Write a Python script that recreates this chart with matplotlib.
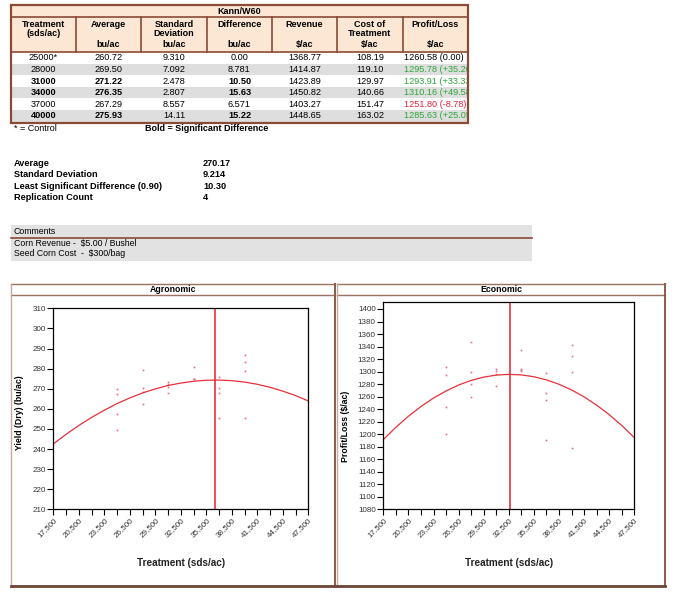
import matplotlib.pyplot as plt
from matplotlib.patches import Rectangle
from matplotlib.transforms import Bbox, TransformedBbox

plt.rcParams['font.family'] = ['Liberation Sans', 'DejaVu Sans']

# table data
title = "Kann/W60"
header_top = ["Treatment\n(sds/ac)", "Average", "Standard\nDeviation", "Difference",
              "Revenue", "Cost of\nTreatment", "Profit/Loss"]
header_units = ["", "bu/ac", "bu/ac", "bu/ac", "$/ac", "$/ac", "$/ac"]
treatments = ["25000*", "28000", "31000", "34000", "37000", "40000"]
averages = ["260.72", "269.50", "271.22", "276.35", "267.29", "275.93"]
std_devs = ["9.310", "7.092", "2.478", "2.807", "8.557", "14.11"]
differences = ["0.00", "8.781", "10.50", "15.63", "6.571", "15.22"]
revenues = ["1368.77", "1414.87", "1423.89", "1450.82", "1403.27", "1448.65"]
costs = ["108.19", "119.10", "129.97", "140.66", "151.47", "163.02"]
profits = [1260.58, 1295.78, 1293.91, 1310.16, 1251.80, 1285.63]
profit_diffs = [0.00, 35.20, 33.33, 49.58, -8.78, 25.05]
significant = [False, False, True, True, False, True]

stat_labels = ["Average", "Standard Deviation", "Least Significant Difference (0.90)",
               "Replication Count"]
stat_values = ["270.17", "9.214", "10.30", "4"]
comment_lines = ["Corn Revenue -  $5.00 / Bushel", "Seed Corn Cost  -  $300/bag"]

# plot data
rates = [25000, 28000, 31000, 34000, 37000, 40000]
yield_reps = [[269.9, 267.2, 257.3, 249.5],
              [279.3, 270.2, 268.5, 262.4],
              [273.2, 272.2, 271.0, 267.7],
              [281.0, 275.0, 274.8, 274.6],
              [276.0, 270.2, 268.0, 255.6],
              [286.8, 283.1, 278.8, 255.6]]
profit_reps = [[1306.8, 1294.6, 1243.5, 1200.3],
               [1347.3, 1299.4, 1280.7, 1260.0],
               [1304.7, 1301.5, 1295.6, 1276.5],
               [1334.0, 1303.6, 1302.5, 1301.0],
               [1298.3, 1266.3, 1254.6, 1190.7],
               [1342.0, 1324.9, 1299.4, 1178.0]]
curve_x = [17500, 19000, 20500, 22000, 23500, 25000, 26500, 28000, 29500, 31000, 32500,
           34000, 35500, 37000, 38500, 40000, 41500, 43000, 44500, 46000, 47500]
yield_curve = [242.5, 247.3, 251.7, 255.7, 259.3, 262.6, 265.4, 267.9, 269.9, 271.6, 272.8,
               273.7, 274.2, 274.3, 274.0, 273.3, 272.2, 270.7, 268.8, 266.6, 263.9]
profit_curve = [1191.3, 1211.0, 1228.6, 1244.2, 1257.7, 1269.1, 1278.5, 1285.9, 1291.2,
                1294.4, 1295.6, 1294.7, 1291.8, 1286.8, 1279.8, 1270.7, 1259.6, 1246.4,
                1231.2, 1213.9, 1194.5]
yield_optimum = 36560
profit_optimum = 32640

BROWN = '#8b4a36'
PEACH = '#fbe7d4'
GRAY = '#dedede'
RED = '#e8303a'
PT = '#ee6a80'

fig = plt.figure(figsize=(6.8, 5.98), dpi=100)
bg = fig.add_axes([0, 0, 1, 1])
bg.set_xlim(0, 680)
bg.set_ylim(598, 0)
bg.axis('off')

# ---- table
cols = [11, 76, 141, 207, 272, 337, 403, 468]
bg.add_patch(Rectangle((11, 5), 457, 47, facecolor=PEACH, edgecolor='none'))
row_h = 11.6
for i in range(6):
    fc = 'white' if i % 2 == 0 else GRAY
    bg.add_patch(Rectangle((11, 52 + i * row_h), 457, row_h, facecolor=fc, edgecolor='none'))
bg.add_patch(Rectangle((11, 5), 457, 117.6, facecolor='none', edgecolor=BROWN, lw=1.6))
bg.plot([11, 468], [17, 17], color=BROWN, lw=1.2)
bg.plot([11, 468], [52, 52], color=BROWN, lw=1.2)
for c in cols[1:-1]:
    bg.plot([c, c], [17, 52], color=BROWN, lw=1.2)
bg.text(239.5, 11, title, ha='center', va='center', fontsize=6.5, fontweight='bold')
for j in range(7):
    cx = (cols[j] + cols[j + 1]) / 2
    bg.text(cx, 20, header_top[j], ha='center', va='top', fontsize=6.5,
            fontweight='bold', linespacing=1.05)
    bg.text(cx, 44.5, header_units[j], ha='center', va='center', fontsize=6.5,
            fontweight='bold')

clip = TransformedBbox(Bbox([[cols[6], 0], [cols[7] - 1.5, 130]]), bg.transData)
for i in range(6):
    y = 52 + (i + 0.5) * row_h
    vals = [treatments[i], averages[i], std_devs[i], differences[i], revenues[i], costs[i]]
    for j, v in enumerate(vals):
        cx = (cols[j] + cols[j + 1]) / 2
        w = 'bold' if significant[i] and j in (0, 1, 3) else 'normal'
        bg.text(cx, y, v, ha='center', va='center', fontsize=6.6, fontweight=w)
    d = profit_diffs[i]
    if d > 0:
        txt, col = f"{profits[i]:.2f} (+{d:.2f})", '#2ea43a'
    elif d < 0:
        txt, col = f"{profits[i]:.2f} ({d:.2f})", '#e8203c'
    else:
        txt, col = f"{profits[i]:.2f} ({d:.2f})", 'black'
    t = bg.text(cols[6] + 1.0, y, txt, ha='left', va='center', fontsize=6.6, color=col)
    t.set_clip_box(clip)
    t.set_clip_on(True)

bg.text(14, 128.5, "* = Control", ha='left', va='center', fontsize=6.5)
bg.text(145, 128.5, "Bold = Significant Difference", ha='left', va='center',
        fontsize=6.5, fontweight='bold')

# ---- stats
for k, (lab, val) in enumerate(zip(stat_labels, stat_values)):
    y = 163.3 + k * 11.4
    bg.text(14, y, lab, ha='left', va='center', fontsize=6.6, fontweight='bold')
    bg.text(203, y, val, ha='left', va='center', fontsize=6.6, fontweight='bold')

# ---- comments
bg.add_patch(Rectangle((11, 225), 521, 35.5, facecolor='#e2e2e2', edgecolor='none'))
bg.plot([11, 532], [237.5, 237.5], color=BROWN, lw=1.2)
bg.text(14, 232, "Comments", ha='left', va='center', fontsize=6.3)
for k, line in enumerate(comment_lines):
    bg.text(14, 243.5 + k * 10.5, line, ha='left', va='center', fontsize=6.3)

# ---- panel frames
for x0, x1, name in [(11, 335, "Agronomic"), (337, 665, "Economic")]:
    bg.plot([x0, x1], [284, 284], color='#9c7062', lw=1.0)
    bg.plot([x0, x1], [295, 295], color='#9c7062', lw=1.0)
    bg.plot([x0, x0], [284, 586], color='#c4aaa0', lw=1.0)
    bg.plot([x1, x1], [284, 586], color='#8b5a48', lw=1.4)
    bg.plot([x0, x1], [586, 586], color='#6e4434', lw=2.0)
    bg.text((x0 + x1) / 2, 289.7, name, ha='center', va='center', fontsize=6.3,
            fontweight='bold')

xt = list(range(17500, 47501, 1500))
xl = [f"{v:,}" if (v - 17500) % 3000 == 0 else "" for v in xt]


def style(ax, ylabel, ylab_x, ylab_y, xlab_y):
    for s in ax.spines.values():
        s.set_linewidth(0.9)
    ax.set_xlim(17500, 47500)
    ax.set_xticks(xt)
    ax.set_xticklabels(xl, rotation=45, ha='right', va='top', rotation_mode='anchor')
    ax.tick_params(axis='both', direction='out', length=4, width=0.8, labelsize=5.8,
                   labelcolor='#333333', pad=1.5)
    ax.set_ylabel(ylabel, fontsize=6.3, fontweight='bold')
    ax.yaxis.set_label_coords(ylab_x, ylab_y)
    ax.set_xlabel("Treatment (sds/ac)", fontsize=7.2, fontweight='bold', color='#222222')
    ax.xaxis.set_label_coords(0.5, xlab_y)


ax1 = fig.add_axes([53.3 / 680, 1 - 509.3 / 598, 255 / 680, 201 / 598])
for x, reps in zip(rates, yield_reps):
    ax1.plot([x] * len(reps), reps, 's', ms=1.2, mew=0, color=PT)
ax1.plot(curve_x, yield_curve, color=RED, lw=0.9)
ax1.axvline(yield_optimum, color=RED, lw=1.2)
ax1.set_ylim(210, 310)
ax1.set_yticks(range(210, 311, 10))
style(ax1, "Yield (Dry) (bu/ac)", -0.113, 0.48, -0.24)

ax2 = fig.add_axes([383.3 / 680, 1 - 509.3 / 598, 251 / 680, 207 / 598])
for x, reps in zip(rates, profit_reps):
    ax2.plot([x] * len(reps), reps, 's', ms=1.2, mew=0, color=PT)
ax2.plot(curve_x, profit_curve, color=RED, lw=0.9)
ax2.axvline(profit_optimum, color=RED, lw=1.2)
ax2.set_ylim(1080, 1410.7)
ax2.set_yticks(range(1080, 1401, 20))
style(ax2, "Profit/Loss ($/ac)", -0.131, 0.40, -0.235)

fig.savefig("out.png", dpi=100)
